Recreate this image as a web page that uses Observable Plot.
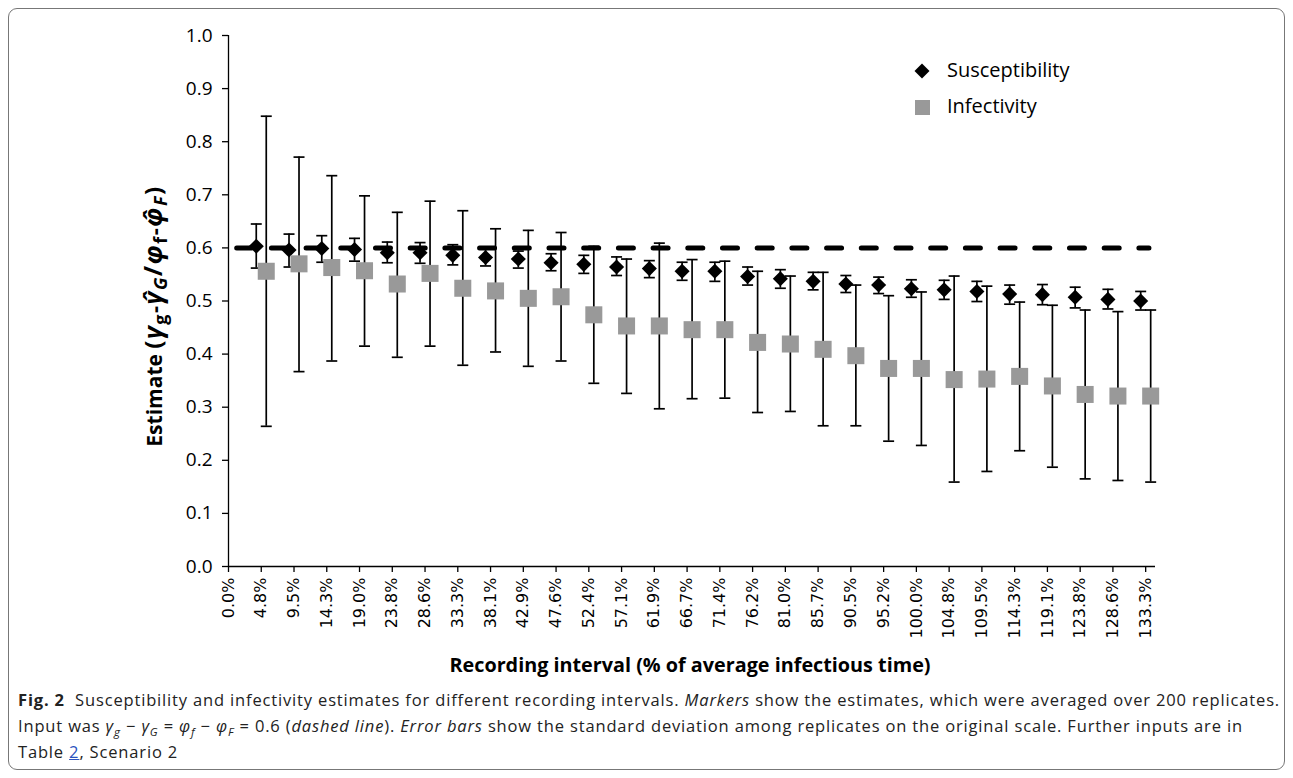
<!DOCTYPE html>
<html>
<head>
<meta charset="utf-8">
<script src="https://cdn.jsdelivr.net/npm/d3@7"></script>
<script src="https://cdn.jsdelivr.net/npm/@observablehq/plot@0.6"></script>
<style>
  html, body { margin: 0; padding: 0; background: #fff; width: 1293px; height: 778px; overflow: hidden; }
  #frame { position: absolute; left: 8px; top: 8px; width: 1277px; height: 762px; border: 1px solid #777; border-radius: 9px; box-sizing: border-box; }
  #chart { position: absolute; left: 0; top: 0; }
  .lg { position: absolute; font-family: "Open Sans", sans-serif; font-size: 20px; line-height: 24px; color: #000; white-space: nowrap; }
  #caption { position: absolute; left: 18px; top: 687px; font-family: "Open Sans", sans-serif; font-size: 16.5px; line-height: 26px; color: #222; white-space: nowrap; }
  #caption .ln { display: inline-block; }
  #caption sub { font-size: 70%; line-height: 0; }
  #caption a { color: #2a52be; text-decoration: underline; }
</style>
</head>
<body>
<div id="frame"></div>
<div id="chart"></div>
<svg class="lg" style="left:914px;top:63px" width="16" height="16"><path d="M8,0.5L15.5,8L8,15.5L0.5,8Z" fill="#000"/></svg>
<div class="lg" style="left:947px;top:58px">Susceptibility</div>
<svg class="lg" style="left:915px;top:100px" width="15" height="15"><rect x="0" y="0" width="15" height="15" fill="#999"/></svg>
<div class="lg" style="left:947px;top:94px">Infectivity</div>
<div id="caption">
<span class="ln" id="cap1"><b>Fig. 2</b>&nbsp; Susceptibility and infectivity estimates for different recording intervals. <i>Markers</i> show the estimates, which were averaged over 200 replicates.</span><br>
<span class="ln">Input was <i>γ<sub>g</sub></i> − <i>γ<sub>G</sub></i> = <i>φ<sub>f</sub></i> − <i>φ<sub>F</sub></i> = 0.6 (<i>dashed line</i>). <i>Error bars</i> show the standard deviation among replicates on the original scale. Further inputs are in</span><br>
<span class="ln">Table <a>2</a>, Scenario 2</span>
</div>
<script>
// x tick labels: recording interval as % of average infectious time
const tickLabels = ["0.0%","4.8%","9.5%","14.3%","19.0%","23.8%","28.6%","33.3%","38.1%","42.9%","47.6%","52.4%","57.1%","61.9%","66.7%","71.4%","76.2%","81.0%","85.7%","90.5%","95.2%","100.0%","104.8%","109.5%","114.3%","119.1%","123.8%","128.6%","133.3%"];
// category index of each estimate (4.8% ... 133.3%)
const intervalIndex = d3.range(1, 29);

// Susceptibility: mean and error-bar ends
const suscMean = [0.603,0.596,0.599,0.597,0.591,0.591,0.586,0.582,0.579,0.572,0.569,0.564,0.561,0.556,0.556,0.546,0.542,0.537,0.532,0.530,0.523,0.521,0.518,0.513,0.512,0.507,0.503,0.500];
const suscHigh = [0.645,0.626,0.623,0.618,0.611,0.610,0.606,0.601,0.594,0.589,0.586,0.583,0.576,0.573,0.573,0.564,0.559,0.554,0.548,0.545,0.540,0.539,0.537,0.530,0.531,0.526,0.522,0.518];
const suscLow  = [0.562,0.564,0.573,0.575,0.572,0.571,0.568,0.566,0.562,0.557,0.552,0.548,0.544,0.539,0.537,0.530,0.524,0.521,0.516,0.514,0.507,0.503,0.499,0.494,0.493,0.487,0.485,0.483];

// Infectivity: mean and error-bar ends
const infMean = [0.556,0.570,0.563,0.557,0.532,0.552,0.524,0.519,0.505,0.508,0.474,0.453,0.453,0.446,0.446,0.422,0.419,0.409,0.397,0.373,0.373,0.352,0.353,0.358,0.340,0.324,0.321,0.321];
const infHigh = [0.848,0.771,0.736,0.698,0.667,0.688,0.670,0.636,0.633,0.629,0.603,0.579,0.609,0.578,0.575,0.556,0.547,0.554,0.530,0.510,0.517,0.547,0.528,0.498,0.492,0.483,0.480,0.483];
const infLow  = [0.264,0.367,0.387,0.415,0.394,0.415,0.379,0.404,0.377,0.387,0.345,0.326,0.297,0.316,0.317,0.290,0.292,0.265,0.265,0.236,0.228,0.159,0.179,0.218,0.187,0.165,0.162,0.159];

// input value (dashed line) and its x extent in category units
const inputValue = 0.6;
const inputSpan = [0.25, 28.1];

const yTicks = d3.range(0, 11).map(k => k / 10);

const rows = intervalIndex.map((idx, k) => ({
  i: idx,
  sMean: suscMean[k], sHigh: suscHigh[k], sLow: suscLow[k],
  fMean: infMean[k], fHigh: infHigh[k], fLow: infLow[k]
}));
const refLine = inputSpan.map(x => ({x, y: inputValue}));

const cap = { draw(context) { context.moveTo(-5.5, 0); context.lineTo(5.5, 0); } };

const plot = Plot.plot({
  width: 1293,
  height: 680,
  marginLeft: 228,
  marginRight: 138,
  marginTop: 35,
  marginBottom: 114,
  style: { fontFamily: "Open Sans, sans-serif", color: "#000", background: "transparent" },
  x: { domain: [0, 28.3] },
  y: { domain: [0, 1] },
  marks: [
    Plot.axisY({ ticks: yTicks, tickFormat: d3.format(".1f"), tickSize: 6, tickPadding: 10, fontSize: 19, label: null, strokeWidth: 1.3 }),
    Plot.axisX({ ticks: d3.range(0, 29), tickFormat: i => tickLabels[i], tickRotate: -90, tickSize: 6, tickPadding: 5, fontSize: 16, fontFamily: "DejaVu Sans", label: null, strokeWidth: 1.3 }),
    Plot.ruleY([0], { stroke: "#000", strokeWidth: 1.3 }),
    Plot.ruleX([0], { stroke: "#000", strokeWidth: 1.3 }),
    Plot.line(refLine, { x: "x", y: "y", stroke: "#000", strokeWidth: 5, strokeDasharray: "15,19.7", strokeLinecap: "round" }),
    // susceptibility
    Plot.ruleX(rows, { x: "i", y1: "sLow", y2: "sHigh", dx: -5, stroke: "#000", strokeWidth: 1.7 }),
    Plot.dot(rows, { x: "i", y: "sHigh", dx: -5, symbol: cap, fill: "none", stroke: "#000", strokeWidth: 1.7 }),
    Plot.dot(rows, { x: "i", y: "sLow", dx: -5, symbol: cap, fill: "none", stroke: "#000", strokeWidth: 1.7 }),
    Plot.dot(rows, { x: "i", y: "sMean", dx: -5, symbol: "diamond2", r: 6.8, fill: "#000", stroke: "none" }),
    // infectivity
    Plot.ruleX(rows, { x: "i", y1: "fLow", y2: "fHigh", dx: 5, stroke: "#000", strokeWidth: 1.7 }),
    Plot.dot(rows, { x: "i", y: "fHigh", dx: 5, symbol: cap, fill: "none", stroke: "#000", strokeWidth: 1.7 }),
    Plot.dot(rows, { x: "i", y: "fLow", dx: 5, symbol: cap, fill: "none", stroke: "#000", strokeWidth: 1.7 }),
    Plot.dot(rows, { x: "i", y: "fMean", dx: 5, symbol: "square", r: 9.6, fill: "#999999", stroke: "none" })
  ]
});
document.getElementById("chart").appendChild(plot);

const svg = d3.select(plot);
// y-axis title with subscripts
const t = svg.append("text")
  .attr("transform", "translate(162,316) rotate(-90)")
  .attr("text-anchor", "middle")
  .attr("font-family", "Open Sans, sans-serif")
  .attr("font-weight", "bold")
  .attr("font-size", 21)
  .attr("fill", "#000");
// [text, dy, italic, fontSize]
const parts = [
  ["Estimate ", 0, false, 21],
  ["(", 0, false, 24],
  ["γ", 0, true, 25], ["g", 5, false, 18], ["-", -5, false, 22],
  ["γ̂", 0, true, 25], ["G", 5, true, 18], ["/", -5, false, 25],
  ["φ", 0, true, 25], ["f", 5, false, 18], ["-", -5, false, 22],
  ["φ̂", 0, true, 25], ["F", 5, true, 18], [")", -5, false, 24]
];
for (const [txt, dy, ital, fs] of parts) {
  const s = t.append("tspan").text(txt).attr("font-size", fs);
  if (dy) s.attr("dy", dy);
  if (ital) s.attr("font-style", "italic");
  if (fs !== 21) s.attr("letter-spacing", 1.5);
}
// x-axis title
svg.append("text")
  .attr("x", 690).attr("y", 672)
  .attr("text-anchor", "middle")
  .attr("font-family", "Open Sans, sans-serif")
  .attr("font-weight", "bold")
  .attr("font-size", 19.8)
  .attr("fill", "#000")
  .text("Recording interval (% of average infectious time)");

// stretch caption so its first line spans the frame like the original
const cap1 = document.getElementById("cap1");
const w = cap1.getBoundingClientRect().width;
const n = cap1.textContent.length;
document.getElementById("caption").style.letterSpacing = ((1262 - w) / n) + "px";
</script>
</body>
</html>
